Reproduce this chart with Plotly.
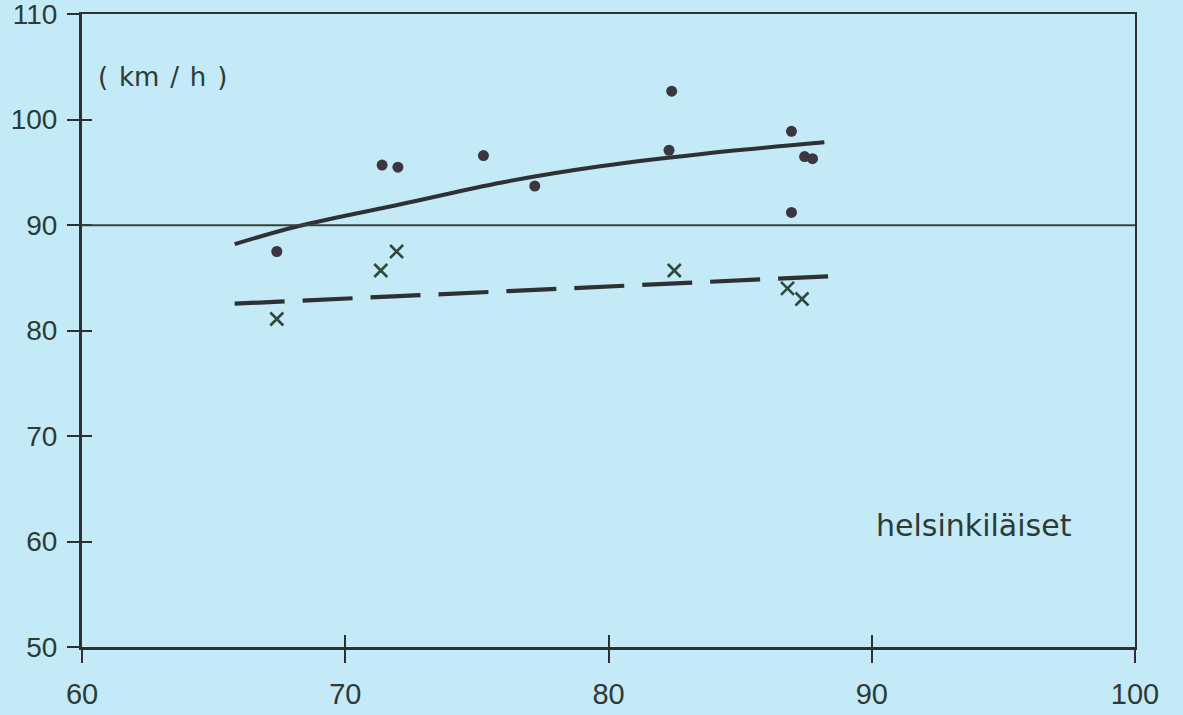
import plotly.graph_objects as go

# Observed points (dots)
dot_x = [67.4, 71.4, 72.0, 75.25, 77.2, 82.4, 82.3, 86.95, 87.45, 87.75, 86.95]
dot_y = [87.5, 95.7, 95.5, 96.6, 93.7, 102.7, 97.1, 98.9, 96.5, 96.3, 91.2]

# Observed points (crosses)
cross_x = [67.4, 71.35, 71.95, 82.5, 86.8, 87.35]
cross_y = [81.1, 85.7, 87.5, 85.7, 84.0, 83.0]

# Fitted solid curve
curve_x = [65.8, 68.2, 72.15, 75.95, 79.75, 83.55, 88.2]
curve_y = [88.2, 89.9, 92.0, 94.05, 95.6, 96.75, 97.85]

# Fitted dashed line
dash_x = [65.8, 88.8]
dash_y = [82.55, 85.2]

ref_level = 90

x_ticks = [60, 70, 80, 90, 100]
y_ticks = [50, 60, 70, 80, 90, 100, 110]

bg = "rgb(196,233,247)"
ink = "#2e3034"
txt = "#2c3b36"
num_font = "Liberation Sans, Arial, sans-serif"
lab_font = "DejaVu Sans, Verdana, sans-serif"
SP = "\u00a0\u200a"

fig = go.Figure()

fig.add_trace(go.Scatter(x=curve_x, y=curve_y, mode="lines",
                         line=dict(color=ink, width=4, shape="spline", smoothing=1.0),
                         hoverinfo="skip", showlegend=False))
fig.add_trace(go.Scatter(x=dash_x, y=dash_y, mode="lines",
                         line=dict(color=ink, width=4.2, dash="50px,18px"),
                         hoverinfo="skip", showlegend=False))
fig.add_trace(go.Scatter(x=dot_x, y=dot_y, mode="markers",
                         marker=dict(symbol="circle", size=11, color="#3b3640"),
                         showlegend=False))
fig.add_trace(go.Scatter(x=cross_x, y=cross_y, mode="markers",
                         marker=dict(symbol="x-thin", size=13,
                                     line=dict(width=2.6, color="#2f4a3c")),
                         showlegend=False))

fig.add_hline(y=ref_level, line=dict(color="#34443c", width=2))

# invisible traces to register overlay axes
fig.add_trace(go.Scatter(x=[None], y=[None], xaxis="x2", yaxis="y2", showlegend=False))
fig.add_trace(go.Scatter(x=[None], y=[None], xaxis="x3", yaxis="y3", showlegend=False))

fig.add_annotation(x=60.55, y=104.0, xref="x", yref="y",
                   text="(" + SP + "km" + SP + "/" + SP + "h" + SP + ")",
                   showarrow=False, xanchor="left", yanchor="middle",
                   font=dict(family=lab_font, size=26, color=txt))
fig.add_annotation(x=90.1, y=61.5, xref="x", yref="y", text="helsinkiläiset",
                   showarrow=False, xanchor="left", yanchor="middle",
                   font=dict(family=lab_font, size=30, color=txt))

fig.update_layout(
    width=1183, height=715,
    margin=dict(l=82, r=48, t=14, b=68),
    paper_bgcolor=bg, plot_bgcolor=bg,
    showlegend=False,
    xaxis=dict(range=[60, 100], tickvals=x_ticks, ticktext=[str(v) for v in x_ticks],
               showgrid=False, zeroline=False, showline=True, linecolor=ink, linewidth=3,
               ticks="outside", ticklen=13, tickwidth=2, tickcolor=ink,
               ticklabelstandoff=6, ticklabeloverflow="allow", automargin=False,
               tickfont=dict(family=num_font, size=29, color=txt)),
    yaxis=dict(range=[50, 110.02], tickvals=y_ticks, ticktext=[str(v) for v in y_ticks],
               showgrid=False, zeroline=False, showline=True, linecolor=ink, linewidth=3,
               ticks="outside", ticklen=12, tickwidth=2, tickcolor=ink,
               ticklabelstandoff=4, ticklabeloverflow="allow", automargin=False,
               tickfont=dict(family=num_font, size=28, color=txt)),
    # inside halves of the ticks
    xaxis2=dict(overlaying="x", matches="x", side="bottom", anchor="y2", automargin=False,
                tickvals=x_ticks, showticklabels=False, ticks="inside", ticklen=12,
                tickwidth=2, tickcolor=ink, showgrid=False, zeroline=False, showline=False),
    yaxis2=dict(overlaying="y", matches="y", side="left", anchor="x2", automargin=False,
                tickvals=y_ticks, showticklabels=False, ticks="inside", ticklen=10,
                tickwidth=2, tickcolor=ink, showgrid=False, zeroline=False, showline=False),
    # top and right borders
    xaxis3=dict(overlaying="x", matches="x", side="top", anchor="y3", automargin=False,
                showticklabels=False, ticks="", showgrid=False, zeroline=False,
                showline=True, linecolor=ink, linewidth=2),
    yaxis3=dict(overlaying="y", matches="y", side="right", anchor="x3", automargin=False,
                showticklabels=False, ticks="", showgrid=False, zeroline=False,
                showline=True, linecolor=ink, linewidth=2),
)

fig.write_html("out.html", config={"displayModeBar": False},
               post_script="document.body.style.margin='0';")
